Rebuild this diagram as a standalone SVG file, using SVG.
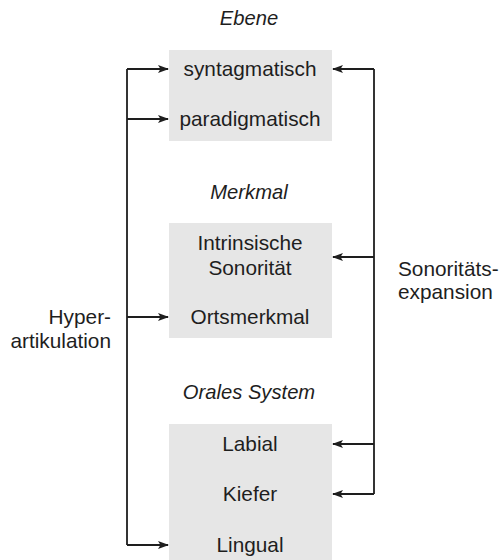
<svg xmlns="http://www.w3.org/2000/svg" width="500" height="560" viewBox="0 0 500 560">
<defs>
<style>
text{font-family:"Liberation Sans",Arial,sans-serif;font-size:20.8px;fill:#1e1e1e}
.t{font-style:italic;text-anchor:middle;font-size:20.2px}
.c{text-anchor:middle}
.box{fill:#e6e6e6}
.ln{fill:none;stroke:#1e1e1e;stroke-width:1.8}
</style>
<marker id="ah" markerWidth="11" markerHeight="9" refX="10" refY="4.5" orient="auto" markerUnits="userSpaceOnUse">
<path d="M0,0.5 L11,4.5 L0,8.5 L2.5,4.5 Z" fill="#1e1e1e"/>
</marker>
</defs>
<rect width="500" height="560" fill="#fff"/>
<g id="title-ebene"><text class="t" x="249" y="25">Ebene</text></g>
<g id="title-merkmal"><text class="t" x="249" y="199">Merkmal</text></g>
<g id="title-orales"><text class="t" x="249" y="399">Orales System</text></g>
<g id="box-ebene">
<rect class="box" x="169" y="50" width="163" height="91"/>
<text class="c" x="250" y="76">syntagmatisch</text>
<text class="c" x="250" y="126">paradigmatisch</text>
</g>
<g id="box-merkmal">
<rect class="box" x="169" y="223" width="163" height="115"/>
<text class="c" x="250" y="250">Intrinsische</text>
<text class="c" x="250" y="275">Sonorität</text>
<text class="c" x="250" y="324">Ortsmerkmal</text>
</g>
<g id="box-orales">
<rect class="box" x="169" y="424" width="163" height="136"/>
<text class="c" x="250" y="451">Labial</text>
<text class="c" x="250" y="501">Kiefer</text>
<text class="c" x="250" y="552">Lingual</text>
</g>
<g id="label-hyper">
<text x="111" y="324" text-anchor="end">Hyper-</text>
<text x="111" y="348" text-anchor="end">artikulation</text>
</g>
<g id="label-sonoritaet">
<text x="398" y="276">Sonoritäts-</text>
<text x="398" y="299">expansion</text>
</g>
<g id="connectors">
<path class="ln" d="M127,69 V545"/>
<path class="ln" d="M127,69 H168" marker-end="url(#ah)"/>
<path class="ln" d="M127,119 H168" marker-end="url(#ah)"/>
<path class="ln" d="M127,317 H168" marker-end="url(#ah)"/>
<path class="ln" d="M127,545 H168" marker-end="url(#ah)"/>
<path class="ln" d="M374,69 V494"/>
<path class="ln" d="M374,69 H333" marker-end="url(#ah)"/>
<path class="ln" d="M374,257 H333" marker-end="url(#ah)"/>
<path class="ln" d="M374,444 H333" marker-end="url(#ah)"/>
<path class="ln" d="M374,494 H333" marker-end="url(#ah)"/>
</g>
</svg>
